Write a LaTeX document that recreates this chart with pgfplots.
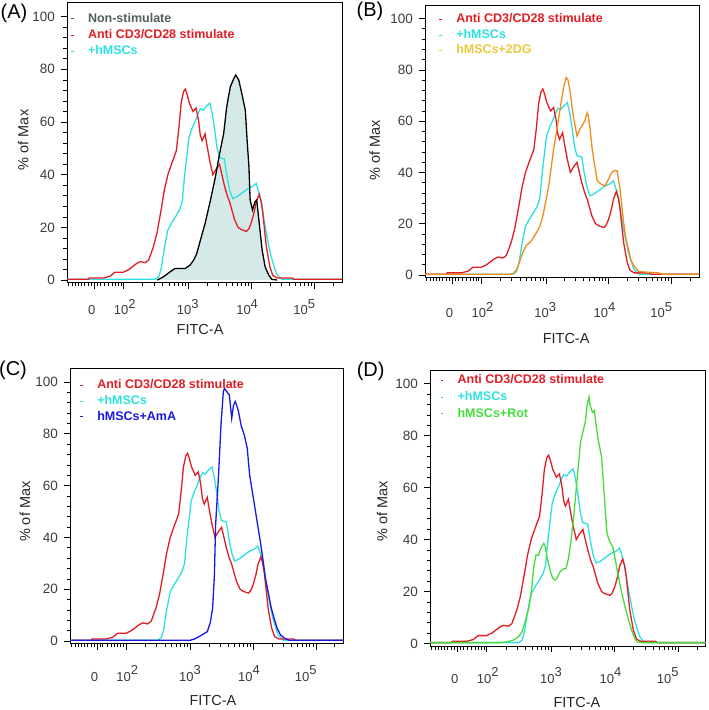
\documentclass[border=0pt]{standalone}
\usepackage{fontspec}
\setmainfont{Liberation Sans}
\usepackage{pgfplots}
\pgfplotsset{compat=1.18}
\usepackage{pgfplotstable}

\definecolor{cred}{RGB}{225,30,35}
\definecolor{ccyan}{RGB}{45,225,225}
\definecolor{cfill}{RGB}{214,233,233}
\definecolor{corange}{RGB}{240,140,30}
\definecolor{cyel}{RGB}{235,200,60}
\definecolor{cblue}{RGB}{25,25,225}
\definecolor{cgreen}{RGB}{70,220,60}
\definecolor{cgray}{RGB}{80,95,95}
\definecolor{ctick}{RGB}{60,60,60}

\newcommand{\tlf}{\fontsize{13}{15}\selectfont\color{ctick}}
\newcommand{\ylf}{\fontsize{13.5}{16}\selectfont\color{ctick}}
\newcommand{\lgf}{\fontsize{12.5}{15}\selectfont\bfseries}

\pgfplotstableread{
u y
0.98 0.3
1.34 0.3
1.35 0.8
1.59 0.8
1.70 1.5
1.78 3.0
1.92 3.0
2.01 4.0
2.14 6.3
2.20 7.0
2.28 6.6
2.34 7.6
2.42 12.7
2.48 18.0
2.55 27.0
2.60 34.0
2.66 40.0
2.72 44.0
2.80 49.0
2.84 57.0
2.88 67.0
2.92 71.5
2.95 72.5
2.98 70.5
3.02 67.0
3.08 64.0
3.13 65.3
3.17 60.7
3.20 55.0
3.23 52.9
3.28 55.5
3.32 50.0
3.36 45.0
3.41 40.0
3.46 42.0
3.52 43.9
3.56 40.0
3.60 36.0
3.65 32.0
3.69 29.6
3.77 23.0
3.83 20.0
3.88 19.2
3.97 18.5
4.01 19.5
4.05 21.8
4.10 26.0
4.13 29.6
4.18 32.5
4.21 30.0
4.24 25.7
4.27 19.0
4.30 12.7
4.36 4.9
4.41 1.7
4.48 0.8
4.73 0.8
4.76 0.3
5.56 0.3
}\redtab

\pgfplotstableread{
u y
0.98 0.3
2.45 0.3
2.51 1.3
2.55 4.5
2.60 12.0
2.66 19.0
2.73 22.0
2.80 24.5
2.86 27.0
2.90 30.0
2.94 40.0
2.97 46.0
3.01 54.0
3.06 57.5
3.11 60.0
3.16 63.0
3.20 65.0
3.25 64.5
3.30 66.0
3.36 67.2
3.40 63.0
3.44 57.0
3.48 50.0
3.52 46.5
3.60 46.0
3.64 40.0
3.69 34.0
3.74 30.9
3.80 31.5
3.88 32.8
3.99 34.7
4.07 35.5
4.13 36.7
4.18 33.0
4.22 29.6
4.26 23.0
4.30 17.9
4.34 13.0
4.38 8.8
4.43 5.0
4.47 2.3
4.52 1.0
4.56 0.3
5.56 0.3
}\cyantab

\pgfplotstableread{
u y
2.48 0.0
2.51 0.3
2.59 1.3
2.70 3.2
2.78 4.4
2.95 4.4
3.03 5.7
3.09 7.6
3.14 10.0
3.20 15.0
3.28 21.5
3.37 30.4
3.45 39.0
3.53 49.0
3.59 55.7
3.64 65.8
3.70 73.4
3.76 76.6
3.79 77.8
3.84 76.0
3.89 71.0
3.95 64.5
3.98 53.0
4.01 43.0
4.03 30.4
4.07 26.6
4.11 29.7
4.14 30.4
4.17 24.0
4.23 11.4
4.28 5.0
4.34 1.9
4.39 0.3
4.48 0.0
}\blacktab

\pgfplotstableread{
u y
0.98 0.3
2.40 0.3
2.45 0.5
2.51 2.0
2.56 5.0
2.62 9.0
2.67 11.5
2.75 13.0
2.83 16.0
2.90 19.0
2.95 23.0
3.01 30.0
3.05 35.0
3.09 42.0
3.13 49.0
3.18 56.0
3.22 62.0
3.26 68.0
3.30 73.7
3.34 77.0
3.37 76.0
3.41 71.0
3.44 65.0
3.47 60.7
3.52 54.2
3.56 56.5
3.60 58.0
3.65 60.0
3.69 63.3
3.71 62.0
3.74 56.8
3.77 50.0
3.80 45.0
3.86 36.7
3.92 35.5
3.99 34.7
4.05 37.5
4.10 40.0
4.15 40.8
4.19 40.6
4.24 33.5
4.30 20.5
4.34 14.0
4.38 10.1
4.42 6.0
4.47 3.6
4.55 1.3
4.88 0.8
4.95 0.3
5.56 0.3
}\orangetab

\pgfplotstableread{
u y
0.98 0.3
3.00 0.3
3.09 1.0
3.20 2.5
3.28 3.6
3.33 7.0
3.37 12.6
3.40 25.5
3.42 44.8
3.47 64.2
3.51 83.5
3.55 96.4
3.57 97.5
3.60 96.5
3.65 95.0
3.69 86.0
3.72 91.0
3.75 92.5
3.80 89.0
3.85 83.0
3.90 79.6
3.95 74.5
3.99 64.2
4.04 57.0
4.08 51.3
4.13 44.0
4.17 38.4
4.21 32.0
4.25 25.0
4.30 19.0
4.35 13.0
4.40 8.8
4.45 5.0
4.51 2.3
4.58 1.0
4.65 0.3
5.56 0.3
}\bluetab

\pgfplotstableread{
u y
0.98 0.3
2.14 0.3
2.26 0.6
2.37 1.3
2.45 2.6
2.51 4.5
2.56 8.3
2.62 13.5
2.67 21.2
2.70 28.8
2.74 34.0
2.78 34.0
2.82 36.5
2.87 38.5
2.89 37.8
2.93 32.7
2.98 27.6
3.02 25.0
3.06 24.4
3.10 25.6
3.14 27.6
3.20 28.8
3.24 28.8
3.28 32.7
3.32 39.0
3.37 49.4
3.41 59.6
3.45 69.9
3.48 77.6
3.52 81.4
3.56 85.3
3.59 91.7
3.62 94.9
3.64 91.7
3.68 89.0
3.71 89.7
3.74 84.0
3.77 79.0
3.80 75.5
3.83 71.8
3.86 62.0
3.89 52.0
3.92 42.4
3.96 39.5
4.02 37.0
4.06 32.0
4.10 27.0
4.16 20.0
4.22 14.0
4.28 9.0
4.33 5.0
4.38 2.0
4.42 0.6
4.50 0.3
5.56 0.3
}\greentab

\pgfplotsset{
  fcs/.style={
    scale only axis,
    xmin=0.98, xmax=5.56, ymin=-1, ymax=105.3,
    axis line style={line width=1pt},
    tick align=outside, tick pos=left,
    major tick length=6pt, minor tick length=3.5pt,
    every tick/.style={black, line width=0.7pt},
    xtick={1.44,1.92,3.0,4.05,5.1}, xticklabels={,,,,},
    minor xtick={1.0,1.07,1.12,1.17,1.22,1.27,1.33,1.38,1.49,1.53,1.60,1.67,1.73,1.78,1.83,1.88,
      2.24,2.43,2.57,2.68,2.76,2.83,2.90,2.95,
      3.316,3.501,3.632,3.734,3.817,3.887,3.948,4.002,
      4.366,4.551,4.682,4.784,4.867,4.937,4.998,5.052,5.416},
    ytick={0,20,40,60,80,100},
    yticklabels={\ylf 0,\ylf 20,\ylf 40,\ylf 60,\ylf 80,\ylf 100},
    minor ytick={4,8,12,16,24,28,32,36,44,48,52,56,64,68,72,76,84,88,92,96},
    yticklabel style={anchor=east, inner sep=0pt, xshift=-6pt},
    extra x ticks={1.39,1.94,2.99,3.98,4.93},
    extra x tick labels={\tlf 0,\tlf 10\raisebox{6.5pt}{2},\tlf 10\raisebox{6.5pt}{3},\tlf 10\raisebox{6.5pt}{4},\tlf 10\raisebox{6.5pt}{5}},
    xlabel={FITC-A}, ylabel={\% of Max},
    label style={font=\fontsize{14.5}{17}\selectfont, color=black!85},
    x label style={anchor=center},
    y label style={anchor=center},
    legend image code/.code={\draw[##1, line width=1pt] (0pt,0pt) -- (2.5pt,0pt); \path[draw=none,fill=none] (0pt,0pt) -- (17pt,0pt);},
    legend style={draw=none, fill=none, inner sep=0pt, outer sep=0pt,
      nodes={inner sep=0pt, text height=9pt, text depth=2.5pt},
      anchor=north west, at={(axis description cs:0,1)}},
    legend cell align=left,
  },
  xlab/.style={extra x tick style={major tick length=0pt,
      xticklabel style={anchor=base, inner sep=0pt, yshift=#1}}},
}

\begin{document}
\begin{tikzpicture}
\useasboundingbox (0pt,0pt) rectangle (709pt,-710pt);

% (A)
\begin{axis}[fcs, at={(67pt,-2.7pt)}, anchor=north west, width=275pt, height=280pt,
  xlab=-32pt,
  x label style={at={(axis description cs:0.484,-0.168)}},
  y label style={at={(axis description cs:-0.159,0.51)}},
  legend style={xshift=3.5pt, yshift=-10.5pt, row sep=4.8pt}]
\addplot[fill=cfill, draw=none, forget plot] table[x=u,y=y] {\blacktab} \closedcycle;
\addplot[ccyan, line width=1.3pt, forget plot] table[x=u,y=y] {\cyantab};
\addplot[cred, line width=1.3pt, forget plot] table[x=u,y=y] {\redtab};
\addplot[black, line width=1.3pt, forget plot] table[x=u,y=y] {\blacktab};
\addlegendimage{cgray}\addlegendentry{\lgf\color{cgray}Non-stimulate}
\addlegendimage{cred}\addlegendentry{\lgf\color{cred}Anti CD3/CD28 stimulate}
\addlegendimage{ccyan}\addlegendentry{\lgf\color{ccyan}+hMSCs}
\end{axis}

% (B)
\begin{axis}[fcs, at={(425pt,-5pt)}, anchor=north west, width=274pt, height=272.5pt,
  xlab=-40pt,
  x label style={at={(axis description cs:0.515,-0.224)}},
  y label style={at={(axis description cs:-0.184,0.468)}},
  legend style={xshift=13.8pt, yshift=-8.8pt, row sep=4pt}]
\addplot[ccyan, line width=1.3pt, forget plot] table[x=u,y=y] {\cyantab};
\addplot[cred, line width=1.3pt, forget plot] table[x=u,y=y] {\redtab};
\addplot[corange, line width=1.3pt, forget plot] table[x=u,y=y] {\orangetab};
\addlegendimage{cred}\addlegendentry{\lgf\color{cred}Anti CD3/CD28 stimulate}
\addlegendimage{ccyan}\addlegendentry{\lgf\color{ccyan}+hMSCs}
\addlegendimage{cyel}\addlegendentry{\lgf\color{cyel}hMSCs+2DG}
\end{axis}

% (C)
\begin{axis}[fcs, at={(70pt,-368.3pt)}, anchor=north west, width=273.3pt, height=275.3pt,
  xlab=-37.4pt,
  x label style={at={(axis description cs:0.523,-0.2085)}},
  y label style={at={(axis description cs:-0.165,0.479)}},
  legend style={xshift=9.8pt, yshift=-11.5pt, row sep=4.2pt}]
\addplot[ccyan, line width=1.3pt, forget plot] table[x=u,y=y] {\cyantab};
\addplot[cred, line width=1.3pt, forget plot] table[x=u,y=y] {\redtab};
\addplot[cblue, line width=1.3pt, forget plot] table[x=u,y=y] {\bluetab};
\addlegendimage{cred}\addlegendentry{\lgf\color{cred}Anti CD3/CD28 stimulate}
\addlegendimage{ccyan}\addlegendentry{\lgf\color{ccyan}+hMSCs}
\addlegendimage{cblue}\addlegendentry{\lgf\color{cblue}hMSCs+AmA}
\end{axis}

% (D)
\begin{axis}[fcs, at={(430pt,-370pt)}, anchor=north west, width=275.7pt, height=276pt,
  xlab=-37.3pt,
  x label style={at={(axis description cs:0.533,-0.2065)}},
  y label style={at={(axis description cs:-0.173,0.487)}},
  legend style={xshift=10.1pt, yshift=-4.8pt, row sep=5.2pt}]
\addplot[ccyan, line width=1.3pt, forget plot] table[x=u,y=y] {\cyantab};
\addplot[cred, line width=1.3pt, forget plot] table[x=u,y=y] {\redtab};
\addplot[cgreen, line width=1.3pt, forget plot] table[x=u,y=y] {\greentab};
\addlegendimage{cred}\addlegendentry{\lgf\color{cred}Anti CD3/CD28 stimulate}
\addlegendimage{ccyan}\addlegendentry{\lgf\color{ccyan}+hMSCs}
\addlegendimage{cgreen}\addlegendentry{\lgf\color{cgreen}hMSCs+Rot}
\end{axis}

\node[font=\fontsize{20}{24}\selectfont, inner sep=0pt] at (14pt,-13pt) {(A)};
\node[font=\fontsize{20}{24}\selectfont, inner sep=0pt] at (370pt,-11pt) {(B)};
\node[font=\fontsize{20}{24}\selectfont, inner sep=0pt] at (13pt,-370pt) {(C)};
\node[font=\fontsize{20}{24}\selectfont, inner sep=0pt] at (370.7pt,-371pt) {(D)};
\end{tikzpicture}
\end{document}
